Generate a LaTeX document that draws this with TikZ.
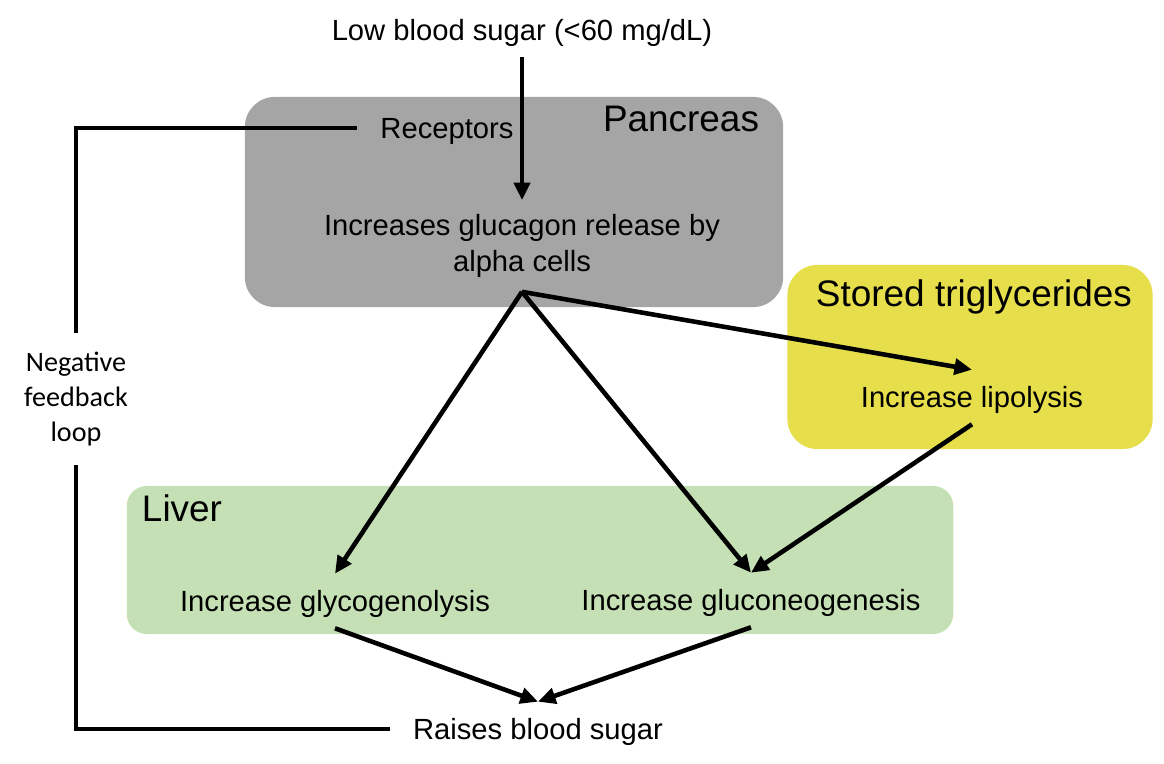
\documentclass[tikz,border=0pt]{standalone}
\usepackage{fontspec}
\setmainfont{Liberation Sans}
\newfontfamily\calfont{Carlito}
\usetikzlibrary{arrows.meta}

\definecolor{pancgray}{HTML}{A5A5A5}
\definecolor{fatyellow}{HTML}{E6DF4B}
\definecolor{livergreen}{HTML}{C5E0B4}

\begin{document}
\begin{tikzpicture}[
        x=0.01cm, y=-0.01cm,
        >={Triangle[length=5pt, width=4.5pt]},
        line width=1.3pt,
        organ/.style={rounded corners=0.3cm, inner sep=0pt},
        title/.style={font=\fontsize{10.5}{12}\selectfont},
        txt/.style={font=\fontsize{8.3}{10}\selectfont, inner xsep=6pt, inner ysep=0pt, text height=0.82em, text depth=0.21em, minimum height=0.5cm}
    ]
        \useasboundingbox (0,0) rectangle (1164,764);
        % organs
        \node[organ, fill=pancgray, minimum width=5.38cm, minimum height=2.1cm] (pancreas) at (514,202) {};
        \node[organ, fill=fatyellow, minimum width=3.65cm, minimum height=1.84cm] (fat) at (970,357) {};
        \node[organ, fill=livergreen, rounded corners=0.2cm, minimum width=8.26cm, minimum height=1.48cm] (liver) at (540,560) {};
        \node[title] (pancreastitle) at (681,119) {Pancreas};
        \node[title] (fattitle) at (974,297) {Stored triglycerides};
        \node[title] (livertitle) at (182,508) {Liver};
        % steps
        \node[txt] (low) at (522,30) {Low blood sugar (<60 mg/dL)};
        \node[txt] (receptors) at (447,128) {Receptors};
        \node[font=\fontsize{8.3}{10}\selectfont, align=center, inner sep=0pt, minimum height=0.87cm] (glucagon) at (522,246) {Increases glucagon release by\\alpha cells};
        \node[txt] (lipo) at (972,397) {Increase lipolysis};
        \node[txt] (glyco) at (335,601) {Increase glycogenolysis};
        \node[txt] (gluconeo) at (751,600) {Increase gluconeogenesis};
        \node[txt] (raises) at (538,729) {Raises blood sugar};
        \node[font=\calfont\fontsize{8}{10}\selectfont, align=center, inner sep=0pt, minimum height=1.27cm] (loop) at (76,399) {Negative\\feedback\\loop};
\path[->]
        (low) edge (glucagon)
        (glucagon.south) edge (glyco.north)
        (glucagon.south) edge (gluconeo.north)
        (glucagon.south) edge (lipo.north)
        (lipo.south) edge (gluconeo.north)
        (glyco.south) edge (raises.north)
        (gluconeo.south) edge (raises.north);
        \draw (receptors.west) -| (loop.north);
        \draw (loop.south) |- (raises.west);
\end{tikzpicture}
\end{document}
